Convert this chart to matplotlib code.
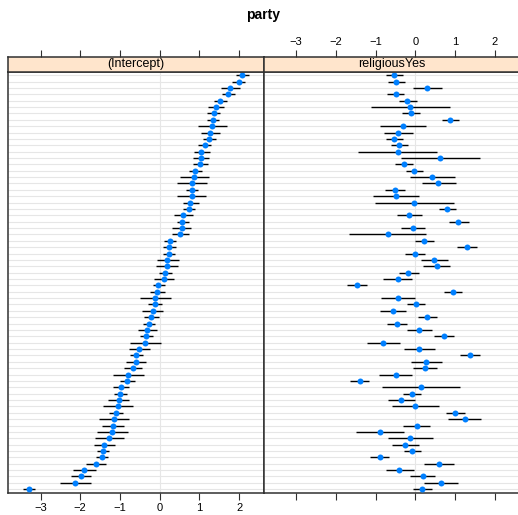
import numpy as np
import matplotlib.pyplot as plt

plt.rcParams['font.family'] = ['Liberation Sans', 'DejaVu Sans']

# panel names and title
title = 'party'
panels = ['(Intercept)', 'religiousYes']
ticks = [-3, -2, -1, 0, 1, 2]

# (Intercept): estimate and interval ends, first row is at the top
intercept = [2.08, 1.99, 1.77, 1.73, 1.52, 1.41, 1.36, 1.34, 1.33, 1.28, 1.25,
             1.13, 1.04, 1.04, 1.02, 0.90, 0.87, 0.82, 0.82, 0.81, 0.77, 0.74,
             0.60, 0.57, 0.55, 0.51, 0.26, 0.24, 0.24, 0.19, 0.18, 0.14, 0.10,
             -0.03, -0.06, -0.11, -0.13, -0.18, -0.21, -0.28, -0.31, -0.34, -0.37,
             -0.51, -0.60, -0.60, -0.68, -0.80, -0.82, -0.98, -0.99, -1.03, -1.06,
             -1.10, -1.16, -1.17, -1.19, -1.27, -1.40, -1.43, -1.45, -1.60, -1.90,
             -1.98, -2.12, -3.29]
intercept_lo = [1.92, 1.83, 1.55, 1.57, 1.36, 1.22, 1.20, 1.18, 0.97, 1.04, 1.08,
                0.97, 0.87, 0.85, 0.85, 0.74, 0.51, 0.44, 0.67, 0.44, 0.58, 0.59,
                0.36, 0.43, 0.31, 0.32, 0.11, 0.08, 0.08, -0.07, -0.09, -0.01, -0.14,
                -0.18, -0.24, -0.50, -0.30, -0.44, -0.39, -0.43, -0.55, -0.50, -0.75,
                -0.76, -0.75, -0.84, -0.91, -1.18, -0.99, -1.17, -1.15, -1.29, -1.42,
                -1.27, -1.53, -1.44, -1.57, -1.62, -1.66, -1.58, -1.60, -1.85, -2.18,
                -2.24, -2.50, -3.44]
intercept_hi = [2.25, 2.15, 2.03, 1.90, 1.70, 1.62, 1.52, 1.50, 1.70, 1.52, 1.42,
                1.30, 1.26, 1.25, 1.21, 1.06, 1.24, 1.19, 0.97, 1.17, 0.98, 0.90,
                0.84, 0.74, 0.80, 0.73, 0.42, 0.40, 0.39, 0.48, 0.45, 0.31, 0.36,
                0.13, 0.13, 0.29, 0.05, 0.09, -0.02, -0.12, -0.07, -0.18, 0.03,
                -0.25, -0.43, -0.34, -0.44, -0.40, -0.63, -0.78, -0.82, -0.76, -0.68,
                -0.92, -0.77, -0.89, -0.81, -0.90, -1.13, -1.27, -1.29, -1.35, -1.61,
                -1.72, -1.74, -3.13]

# religiousYes: estimate and interval ends, same row order
religious = [-0.53, -0.49, 0.30, -0.50, -0.20, -0.14, -0.11, 0.87, -0.31, -0.44, -0.53,
             -0.40, -0.45, 0.62, -0.29, -0.03, 0.41, 0.58, -0.52, -0.50, -0.03, 0.80,
             -0.15, 1.08, -0.06, -0.70, 0.22, 1.29, -0.01, 0.47, 0.54, -0.18, -0.45,
             -1.48, 0.95, -0.45, 0.02, -0.57, 0.30, -0.47, 0.10, 0.71, -0.81,
             0.10, 1.38, 0.27, 0.24, -0.50, -1.40, 0.13, -0.09, -0.35, 0.00,
             1.00, 1.24, 0.03, -0.88, -0.13, -0.25, -0.08, -0.90, 0.60, -0.40,
             0.18, 0.64, 0.17]
religious_lo = [-0.73, -0.69, -0.06, -0.71, -0.41, -1.13, -0.33, 0.66, -0.88, -0.79, -0.74,
                -0.62, -1.44, -0.35, -0.51, -0.24, -0.13, 0.17, -0.76, -1.07, -1.02, 0.59,
                -0.46, 0.85, -0.36, -1.66, -0.01, 1.04, -0.25, 0.14, 0.20, -0.42, -0.81,
                -1.72, 0.71, -0.87, -0.21, -0.90, 0.07, -0.71, -0.21, 0.47, -1.23,
                -0.28, 1.13, -0.11, -0.07, -0.92, -1.64, -0.85, -0.31, -0.69, -0.58,
                0.76, 0.82, -0.30, -1.49, -0.69, -0.59, -0.29, -1.14, 0.22, -0.75,
                -0.14, 0.22, -0.07]
religious_hi = [-0.30, -0.25, 0.67, -0.28, 0.03, 0.86, 0.12, 1.09, 0.28, -0.07, -0.30,
                -0.18, 0.54, 1.63, -0.05, 0.20, 1.00, 1.02, -0.27, 0.09, 0.97, 1.03,
                0.17, 1.34, 0.25, 0.28, 0.48, 1.55, 0.24, 0.82, 0.88, 0.08, -0.08,
                -1.22, 1.18, -0.01, 0.25, -0.23, 0.55, -0.22, 0.42, 0.97, -0.38,
                0.49, 1.64, 0.66, 0.55, -0.08, -1.16, 1.13, 0.13, -0.02, 0.59,
                1.24, 1.66, 0.38, -0.29, 0.45, 0.10, 0.15, -0.66, 0.97, -0.04,
                0.50, 1.07, 0.42]

W, H = 518, 515
fig = plt.figure(figsize=(W / 100, H / 100), dpi=100)


def box(x0, y0, x1, y1):
    # pixel box (top-left origin) -> figure fraction
    return [x0 / W, 1 - y1 / H, (x1 - x0) / W, (y1 - y0) / H]


xlim = (-3.82, 2.62)
n = len(intercept)
rows = np.arange(n)
frame = '#303030'
pw = 255.7  # panel width in pixels

series = [(intercept, intercept_lo, intercept_hi),
          (religious, religious_lo, religious_hi)]

for k, (est, lo, hi) in enumerate(series):
    x0 = 8 + k * pw
    ax = fig.add_axes(box(x0, 71.7, x0 + pw, 492.7))
    st = fig.add_axes(box(x0, 56.7, x0 + pw, 71.7), sharex=ax)

    # reference lines for every row and at zero
    ax.hlines(rows, xlim[0], xlim[1], color='#e6e6e6', lw=0.8, zorder=0)
    ax.axvline(0, color='#e6e6e6', lw=0.8, zorder=0)
    # intervals and estimates
    ax.hlines(rows, lo, hi, color='black', lw=1.0, zorder=2)
    ax.plot(est, rows, 'o', color='#0080ff', ms=4.3, mec='none', zorder=3)

    ax.set_xlim(xlim)
    ax.set_ylim(n - 1 + 0.55, -0.55)
    ax.set_yticks([])
    ax.set_xticks(ticks)
    ax.tick_params(axis='x', direction='out', length=4.7, width=0.8,
                   color=frame, labelsize=8, pad=2.5, labelbottom=(k == 0))
    for s in ax.spines.values():
        s.set_color(frame)
        s.set_linewidth(1.1)

    # strip on top of each panel
    st.set_facecolor('#ffe5cc')
    st.set_yticks([])
    st.tick_params(axis='x', which='both', bottom=False, labelbottom=False,
                   top=True, labeltop=(k == 1), direction='out', length=4.7,
                   width=0.8, color=frame, labelsize=8, pad=2.5)
    for s in st.spines.values():
        s.set_color(frame)
        s.set_linewidth(1.1)
    st.text(0.5, 0.5, panels[k], transform=st.transAxes, ha='center',
            va='center', fontsize=9)

fig.text(263 / W, 1 - 15 / H, title, ha='center', va='center',
         fontsize=10, fontweight='bold')

fig.savefig('out.png', dpi=100)
